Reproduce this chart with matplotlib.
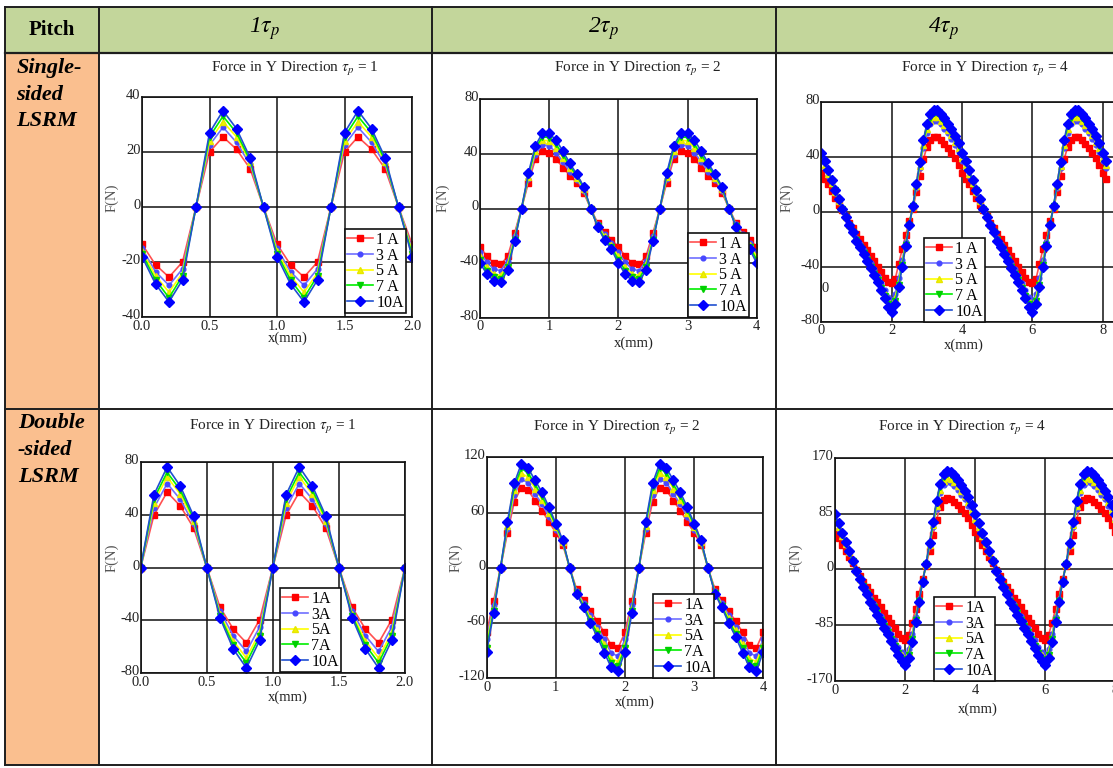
import numpy as np
import matplotlib
matplotlib.use("Agg")
import matplotlib.pyplot as plt
import matplotlib.transforms as mtransforms
from matplotlib.patches import Rectangle
from matplotlib.lines import Line2D

# ---------------- data ----------------
currents_top = ['1 A', '3 A', '5 A', '7 A', '10A']
currents_bot = ['1A', '3A', '5A', '7A', '10A']
col_headers = [r'1$\tau_p$', r'2$\tau_p$', r'4$\tau_p$']
row_labels = [['Single-', 'sided', 'LSRM'], ['Double', '-sided', 'LSRM']]
titles = [r'Force in Y Direction $\tau_p$ = 1', r'Force in Y Direction $\tau_p$ = 2',
          r'Force in Y Direction $\tau_p$ = 4']

# Panel 1: single-sided, tau_p = 1 (x 0..2 mm, step 0.1)
p1_x = [round(0.1 * i, 1) for i in range(21)]
p1_1A = [-13.5, -21, -25.5, -20, 0, 20, 25.5, 21, 14, 0,
         -13.5, -21, -25.5, -20, 0, 20, 25.5, 21, 14, 0, -13.5]
p1_3A = [-15, -23.5, -28.5, -22.5, 0, 22.5, 29, 23.5, 15.5, 0,
         -15, -23.5, -28.5, -22.5, 0, 22.5, 29, 23.5, 15.5, 0, -15]
p1_5A = [-16, -25, -31, -24, 0, 24, 31, 25.5, 16.5, 0,
         -16, -25, -31, -24, 0, 24, 31, 25.5, 16.5, 0, -16]
p1_7A = [-17, -26.5, -33, -25, 0, 25.5, 33, 27, 17, 0,
         -17, -26.5, -33, -25, 0, 25.5, 33, 27, 17, 0, -17]
p1_10A = [-18, -28, -34.5, -26.5, 0, 27, 35, 28.5, 18, 0,
          -18, -28, -34.5, -26.5, 0, 27, 35, 28.5, 18, 0, -18]

# Panel 2: single-sided, tau_p = 2 (x 0..4 mm)
p2_x = [round(0.1 * i, 1) for i in range(41)]
p2_1A = [-28, -35, -40, -41, -35, -18, 0, 19, 36, 42, 41, 36, 30, 24, 19, 11.5, 0, -10.5, -17, -23,
         -28, -35, -40, -41, -35, -18, 0, 19, 36, 42, 41, 36, 30, 24, 19, 11.5, 0, -10.5, -17, -23, -28]
p2_3A = [-32, -39.5, -44.5, -45.5, -38.5, -20, 0, 21.5, 39.5, 46.5, 46, 41, 34, 27, 21, 13, 0, -11.5, -19, -25.5,
         -32, -39.5, -44.5, -45.5, -38.5, -20, 0, 21.5, 39.5, 46.5, 46, 41, 34, 27, 21, 13, 0, -11.5, -19, -25.5, -32]
p2_5A = [-35, -43, -48, -49, -41, -21.5, 0, 23, 42, 50, 49.5, 44.5, 37, 29.5, 22.5, 14, 0, -12.5, -20.5, -27,
         -35, -43, -48, -49, -41, -21.5, 0, 23, 42, 50, 49.5, 44.5, 37, 29.5, 22.5, 14, 0, -12.5, -20.5, -27, -35]
p2_7A = [-37.5, -45.5, -50.5, -51.5, -43, -23, 0, 24.5, 44, 52.5, 52, 47, 39.5, 31, 24, 15, 0, -13, -22, -28.5,
         -37.5, -45.5, -50.5, -51.5, -43, -23, 0, 24.5, 44, 52.5, 52, 47, 39.5, 31, 24, 15, 0, -13, -22, -28.5, -37.5]
p2_10A = [-40, -48, -53, -54, -45, -24, 0, 26, 46, 55, 55, 50, 42, 33, 25, 16, 0, -13.5, -23, -30,
          -40, -48, -53, -54, -45, -24, 0, 26, 46, 55, 55, 50, 42, 33, 25, 16, 0, -13.5, -23, -30, -40]

# Panel 3: single-sided, tau_p = 4 (x 0..8.1 mm)
p3_x = [round(0.1 * i, 1) for i in range(82)]
p3_1A = [28, 24, 20, 15, 10, 5, 1, -3, -8, -12, -16, -20, -24, -28, -32, -36, -40, -44, -48, -51,
         -52, -49, -38, -27, -17, -7, 2, 14, 26, 38, 47, 52, 54, 54, 52, 49, 46, 43, 39, 34,
         28, 24, 20, 15, 10, 5, 1, -3, -8, -12, -16, -20, -24, -28, -32, -36, -40, -44, -48, -51,
         -52, -49, -38, -27, -17, -7, 2, 14, 26, 38, 47, 52, 54, 54, 52, 49, 46, 43, 39, 34,
         28, 24]
p3_3A = [37, 32, 26, 20, 13.5, 7.5, 1.5, -3.5, -9, -14, -19, -23.5, -28, -33, -37.5, -42, -46.5, -52, -57, -62,
         -64.5, -60, -48, -35, -22, -9, 3, 17.5, 32, 46.5, 57, 63.5, 66, 66, 63.5, 60.5, 57, 53, 48.5, 43.5,
         37, 32, 26, 20, 13.5, 7.5, 1.5, -3.5, -9, -14, -19, -23.5, -28, -33, -37.5, -42, -46.5, -52, -57, -62,
         -64.5, -60, -48, -35, -22, -9, 3, 17.5, 32, 46.5, 57, 63.5, 66, 66, 63.5, 60.5, 57, 53, 48.5, 43.5,
         37, 32]
p3_5A = [39, 34, 27.5, 21, 14.5, 8, 2, -4, -9.5, -14, -20, -24.5, -29, -34, -39, -43.5, -48, -54, -59, -64.5,
         -68, -62.5, -51, -37, -23, -9, 3.5, 18.5, 33.5, 48.5, 60, 66, 69, 69, 66, 63, 59.5, 56, 51, 46,
         39, 34, 27.5, 21, 14.5, 8, 2, -4, -9.5, -14, -20, -24.5, -29, -34, -39, -43.5, -48, -54, -59, -64.5,
         -68, -62.5, -51, -37, -23, -9, 3.5, 18.5, 33.5, 48.5, 60, 66, 69, 69, 66, 63, 59.5, 56, 51, 46,
         39, 34]
p3_7A = [41, 35.5, 29, 22, 15.5, 8.5, 2, -4, -10, -14.5, -20.5, -25.5, -30, -35, -40, -45, -49.5, -55.5, -61, -67,
         -70.5, -65, -53, -38.5, -24, -9.5, 4, 19.5, 35, 50.5, 62, 68.5, 71.5, 71.5, 68.5, 65.5, 62, 58, 53, 48,
         41, 35.5, 29, 22, 15.5, 8.5, 2, -4, -10, -14.5, -20.5, -25.5, -30, -35, -40, -45, -49.5, -55.5, -61, -67,
         -70.5, -65, -53, -38.5, -24, -9.5, 4, 19.5, 35, 50.5, 62, 68.5, 71.5, 71.5, 68.5, 65.5, 62, 58, 53, 48,
         41, 35.5]
p3_10A = [43, 37, 30, 23, 16, 9, 2, -4, -10, -15, -21, -26, -31, -36, -41, -46, -51, -57, -63, -69,
          -73, -67, -55, -40, -25, -10, 4, 20, 36, 52, 64, 71, 74, 74, 71, 68, 64, 60, 55, 50,
          43, 37, 30, 23, 16, 9, 2, -4, -10, -15, -21, -26, -31, -36, -41, -46, -51, -57, -63, -69,
          -73, -67, -55, -40, -25, -10, 4, 20, 36, 52, 64, 71, 74, 74, 71, 68, 64, 60, 55, 50,
          43, 37]

# Panel 4: double-sided, tau_p = 1 (x 0..2 mm)
p4_x = [round(0.1 * i, 1) for i in range(21)]
p4_1A = [0, 39.5, 57, 46.5, 30, 0, -30, -46.5, -57, -39.5,
         0, 39.5, 57, 46.5, 30, 0, -30, -46.5, -57, -39.5, 0]
p4_3A = [0, 45, 63.5, 51.5, 33, 0, -33, -51.5, -63.5, -45,
         0, 45, 63.5, 51.5, 33, 0, -33, -51.5, -63.5, -45, 0]
p4_5A = [0, 49, 68.5, 55.5, 35.5, 0, -35, -55.5, -68.5, -49,
         0, 49, 68.5, 55.5, 35.5, 0, -35, -55.5, -68.5, -49, 0]
p4_7A = [0, 52, 72, 58.5, 37, 0, -36.5, -58.5, -72, -52,
         0, 52, 72, 58.5, 37, 0, -36.5, -58.5, -72, -52, 0]
p4_10A = [0, 55, 76, 61.5, 39, 0, -38, -61.5, -76, -55,
          0, 55, 76, 61.5, 39, 0, -38, -61.5, -76, -55, 0]

# Panel 5: double-sided, tau_p = 2 (x 0..4 mm)
p5_x = [round(0.1 * i, 1) for i in range(41)]
p5_1A = [-70, -36, 0, 38, 72, 87, 84, 73, 62, 50, 38, 25, 0, -23, -35, -47, -58, -70, -84, -87,
         -70, -36, 0, 38, 72, 87, 84, 73, 62, 50, 38, 25, 0, -23, -35, -47, -58, -70, -84, -87, -70]
p5_3A = [-77.5, -40.5, 0, 42, 79, 96, 92.5, 80.5, 69, 55.5, 41.5, 27, 0, -25, -38, -51.5, -64, -77.5, -92.5, -96,
         -77.5, -40.5, 0, 42, 79, 96, 92.5, 80.5, 69, 55.5, 41.5, 27, 0, -25, -38, -51.5, -64, -77.5, -92.5, -96, -77.5]
p5_5A = [-82.5, -44, 0, 45, 84, 102.5, 98.5, 86, 74, 59.5, 44, 28, 0, -26, -40, -55, -68, -83, -98.5, -102,
         -82.5, -44, 0, 45, 84, 102.5, 98.5, 86, 74, 59.5, 44, 28, 0, -26, -40, -55, -68, -83, -98.5, -102, -82.5]
p5_7A = [-87, -46.5, 0, 47.5, 88, 108, 103, 90.5, 78, 63, 46, 29, 0, -27, -41.5, -57.5, -71.5, -87.5, -103, -107,
         -87, -46.5, 0, 47.5, 88, 108, 103, 90.5, 78, 63, 46, 29, 0, -27, -41.5, -57.5, -71.5, -87.5, -103, -107, -87]
p5_10A = [-91, -49, 0, 50, 92, 113, 108, 95, 82, 66, 48, 30, 0, -28, -43, -60, -75, -92, -108, -112,
          -91, -49, 0, 50, 92, 113, 108, 95, 82, 66, 48, 30, 0, -28, -43, -60, -75, -92, -108, -112, -91]

# Panel 6: double-sided, tau_p = 4 (x 0..8 mm)
p6_x = [round(0.1 * i, 1) for i in range(81)]
p6_1A = [57, 47, 37, 28, 19, 9, -1, -10, -19, -27, -35, -43, -50, -58, -66, -74, -82, -90, -98, -105,
         -108, -100, -82, -60, -37, -15, 5, 28, 52, 75, 95, 105, 108, 107, 103, 98, 92, 86, 78, 68,
         57, 47, 37, 28, 19, 9, -1, -10, -19, -27, -35, -43, -50, -58, -66, -74, -82, -90, -98, -105,
         -108, -100, -82, -60, -37, -15, 5, 28, 52, 75, 95, 105, 108, 107, 103, 98, 92, 86, 78, 68,
         57]
p6_3A = [73, 61, 48.5, 36.5, 24.5, 11.5, -1.5, -13, -24, -33.5, -43.5, -52.5, -61.5, -70.5, -80, -89, -98, -108, -118, -126,
         -131, -121, -99, -72, -45, -18, 7, 35, 64, 92.5, 116, 129, 133, 131.5, 127, 121, 113.5, 106.5, 97, 86,
         73, 61, 48.5, 36.5, 24.5, 11.5, -1.5, -13, -24, -33.5, -43.5, -52.5, -61.5, -70.5, -80, -89, -98, -108, -118, -126,
         -131, -121, -99, -72, -45, -18, 7, 35, 64, 92.5, 116, 129, 133, 131.5, 127, 121, 113.5, 106.5, 97, 86,
         73]
p6_5A = [77, 64, 51, 38.5, 26, 12, -2, -14, -25, -35, -45.5, -55, -64, -74, -83, -93, -102, -112.5, -123, -131,
         -136.5, -126, -103, -75, -47, -19, 7, 37, 67, 97, 121, 135, 139.5, 138, 133, 126.5, 119, 111.5, 102, 90.5,
         77, 64, 51, 38.5, 26, 12, -2, -14, -25, -35, -45.5, -55, -64, -74, -83, -93, -102, -112.5, -123, -131,
         -136.5, -126, -103, -75, -47, -19, 7, 37, 67, 97, 121, 135, 139.5, 138, 133, 126.5, 119, 111.5, 102, 90.5,
         77]
p6_7A = [81, 67, 53.5, 40, 27, 12.5, -2, -14.5, -26, -36.5, -47.5, -57, -66.5, -76.5, -86, -96, -106, -116.5, -127, -136,
         -141.5, -131, -106.5, -77.5, -48.5, -19.5, 7.5, 38.5, 69.5, 100.5, 126, 140, 145, 143, 138, 131.5, 123.5, 116, 106, 94.5,
         81, 67, 53.5, 40, 27, 12.5, -2, -14.5, -26, -36.5, -47.5, -57, -66.5, -76.5, -86, -96, -106, -116.5, -127, -136,
         -141.5, -131, -106.5, -77.5, -48.5, -19.5, 7.5, 38.5, 69.5, 100.5, 126, 140, 145, 143, 138, 131.5, 123.5, 116, 106, 94.5,
         81]
p6_10A = [84, 70, 56, 42, 28, 13, -2, -15, -27, -38, -49, -59, -69, -79, -89, -99, -109, -120, -131, -140,
          -146, -135, -110, -80, -50, -20, 8, 40, 72, 104, 130, 145, 150, 148, 143, 136, 128, 120, 110, 98,
          84, 70, 56, 42, 28, 13, -2, -15, -27, -38, -49, -59, -69, -79, -89, -99, -109, -120, -131, -140,
          -146, -135, -110, -80, -50, -20, 8, 40, 72, 104, 130, 145, 150, 148, 143, 136, 128, 120, 110, 98,
          84]

# tick labels
p1_xticks, p1_xtl = [0, 0.5, 1.0, 1.5, 2.0], ['0.0', '0.5', '1.0', '1.5', '2.0']
p2_xticks, p2_xtl = [0, 1, 2, 3, 4], ['0', '1', '2', '3', '4']
p3_xticks, p3_xtl = [0, 2, 4, 6, 8], ['0', '2', '4', '6', '8']
p1_yticks = [-40, -20, 0, 20, 40]
p2_yticks = [-80, -40, 0, 40, 80]
p3_yticks = [-80, -40, 0, 40, 80]
p4_yticks = [-80, -40, 0, 40, 80]
p5_yticks = [-120, -60, 0, 60, 120]
p6_yticks = [-170, -85, 0, 85, 170]

# ---------------- figure ----------------
W, H = 1113, 768
plt.rcParams['font.family'] = ['Liberation Serif', 'DejaVu Serif']
plt.rcParams['mathtext.fontset'] = 'stix'

fig = plt.figure(figsize=(W / 100, H / 100), dpi=100)
fig.patch.set_facecolor('white')


def X(px):
    return px / W


def Y(py):
    return 1 - py / H


GREEN = '#c3d69b'
ORANGE = '#fabf8f'
LINEC = '#1e1e1e'

fig.add_artist(Rectangle((X(5.3), Y(52.7)), X(1113) - X(5.3), Y(7.3) - Y(52.7),
                         transform=fig.transFigure, facecolor=GREEN, edgecolor='none', zorder=0))
fig.add_artist(Rectangle((X(5.3), Y(765)), X(98.7) - X(5.3), Y(52.7) - Y(765),
                         transform=fig.transFigure, facecolor=ORANGE, edgecolor='none', zorder=0))


def hline(y, x0, x1, lw=1.4):
    fig.add_artist(Line2D([X(x0), X(x1)], [Y(y), Y(y)], transform=fig.transFigure,
                          color=LINEC, lw=lw, zorder=5))


def vline(x, y0, y1, lw=1.4):
    fig.add_artist(Line2D([X(x), X(x)], [Y(y0), Y(y1)], transform=fig.transFigure,
                          color=LINEC, lw=lw, zorder=5))


hline(7.3, 5.3, 1113)
hline(52.7, 5.3, 1113, lw=1.6)
hline(409.3, 5.3, 1113)
hline(765, 5.3, 1113)
for xv in [5.3, 98.7, 431.7, 776]:
    vline(xv, 7.3, 765)

# header texts
fig.text(X(52), Y(30), 'Pitch', ha='center', va='center', fontsize=15, fontweight='bold')
for cx, txt in zip([265, 604, 944], col_headers):
    fig.text(X(cx), Y(29), txt, ha='center', va='center', fontsize=17, fontstyle='italic')

for lines, ys, x0 in [(row_labels[0], [68, 95, 121], 16.5), (row_labels[1], [423, 450, 477], 18)]:
    for t, yy in zip(lines, ys):
        fig.text(X(x0), Y(yy), t, ha='left', va='center', fontsize=16,
                 fontweight='bold', fontstyle='italic')

styles = [
    dict(color='#ff5050', marker='s', ms=5.0, mfc='#ff0000', mec='#ff0000'),
    dict(color='#6f6fff', marker='o', ms=3.4, mfc='#4848ff', mec='#4848ff'),
    dict(color='#ffff00', marker='^', ms=4.6, mfc='#f2f200', mec='#e6e600'),
    dict(color='#00ee00', marker='v', ms=4.8, mfc='#00d000', mec='#00d000'),
    dict(color='#2050d0', marker='D', ms=4.6, mfc='#0000ff', mec='#0000ff'),
]

panels = [
    dict(box=(142, 97, 412, 317), xlim=(0, 2), ylim=(-40, 40), x=p1_x,
         ys=[p1_1A, p1_3A, p1_5A, p1_7A, p1_10A], xt=p1_xticks, xtl=p1_xtl, yt=p1_yticks,
         title=titles[0], tpos=(295, 69), xl=(288, 338), yl=(112, 198),
         leg=(345, 313), labels=currents_top, right=True),
    dict(box=(480, 99.3, 756.7, 317.7), xlim=(0, 4), ylim=(-80, 80), x=p2_x,
         ys=[p2_1A, p2_3A, p2_5A, p2_7A, p2_10A], xt=p2_xticks, xtl=p2_xtl, yt=p2_yticks,
         title=titles[1], tpos=(638, 69), xl=(634, 343), yl=(443, 198),
         leg=(688, 317), labels=currents_top, right=True),
    dict(box=(821.3, 101.7, 1113, 321.7), xlim=(0, 8.29), ylim=(-80, 80), x=p3_x,
         ys=[p3_1A, p3_3A, p3_5A, p3_7A, p3_10A], xt=p3_xticks, xtl=p3_xtl, yt=p3_yticks,
         title=titles[2], tpos=(985, 69), xl=(964, 345), yl=(787, 198),
         leg=(924, 322), labels=currents_top, right=False),
    dict(box=(140.7, 461.7, 405, 673.3), xlim=(0, 2), ylim=(-80, 80), x=p4_x,
         ys=[p4_1A, p4_3A, p4_5A, p4_7A, p4_10A], xt=p1_xticks, xtl=p1_xtl, yt=p4_yticks,
         title=titles[0], tpos=(273, 427), xl=(288, 697), yl=(112, 558),
         leg=(280, 672), labels=currents_bot, right=True),
    dict(box=(486.7, 457.3, 763.3, 678.3), xlim=(0, 4), ylim=(-120, 120), x=p5_x,
         ys=[p5_1A, p5_3A, p5_5A, p5_7A, p5_10A], xt=p2_xticks, xtl=p2_xtl, yt=p5_yticks,
         title=titles[1], tpos=(617, 428), xl=(635, 702), yl=(456, 558),
         leg=(653, 678), labels=currents_bot, right=True),
    dict(box=(835, 457.7, 1115, 681), xlim=(0, 8), ylim=(-170, 170), x=p6_x,
         ys=[p6_1A, p6_3A, p6_5A, p6_7A, p6_10A], xt=p3_xticks, xtl=p3_xtl, yt=p6_yticks,
         title=titles[2], tpos=(962, 428), xl=(978, 709), yl=(796, 558),
         leg=(934, 681), labels=currents_bot, right=False),
]

up_shift = mtransforms.ScaledTranslation(0, 3 / 100, fig.dpi_scale_trans)

for p in panels:
    x0, y0, x1, y1 = p['box']
    ax = fig.add_axes([X(x0), Y(y1), (x1 - x0) / W, (y1 - y0) / H])
    ax.set_xlim(*p['xlim'])
    ax.set_ylim(*p['ylim'])
    ax.set_axisbelow(True)
    ax.grid(True, color='#111111', lw=1.1)
    ax.set_xticks(p['xt'])
    ax.set_xticklabels(p['xtl'])
    ax.set_yticks(p['yt'])
    ax.set_yticklabels([str(v) for v in p['yt']])
    ax.tick_params(axis='both', length=0, labelsize=10.5, labelcolor='#222222')
    ax.tick_params(axis='x', pad=2)
    ax.tick_params(axis='y', pad=1)
    for lab in ax.get_yticklabels():
        lab.set_transform(lab.get_transform() + up_shift)
    for s in ax.spines.values():
        s.set_color('#111111')
        s.set_linewidth(1.2)
    if not p['right']:
        ax.spines['right'].set_visible(False)
    handles = []
    for yv, st in zip(p['ys'], styles):
        ln, = ax.plot(p['x'], yv, lw=1.2, clip_on=True, **st)
        handles.append(ln)
    lx, ly = p['leg']
    leg = ax.legend(handles, p['labels'], loc='lower left',
                    bbox_to_anchor=(X(lx), Y(ly)), bbox_transform=fig.transFigure,
                    borderaxespad=0, fontsize=11.5, frameon=True, fancybox=False,
                    edgecolor='#111111', framealpha=1, borderpad=0.15,
                    labelspacing=-0.02, handlelength=1.6, handletextpad=0.2,
                    numpoints=1)
    leg.get_frame().set_linewidth(1.2)
    fig.text(X(p['tpos'][0]), Y(p['tpos'][1]), p['title'], ha='center', va='center',
             fontsize=11, color='#222222')
    fig.text(X(p['xl'][0]), Y(p['xl'][1]), 'x(mm)', ha='center', va='center',
             fontsize=10.5, color='#222222')
    fig.text(X(p['yl'][0]), Y(p['yl'][1]), 'F(N)', ha='center', va='center',
             fontsize=10.5, color='#555555', rotation=90)

# stray label seen in the original single-sided tau_p=4 plot
fig.text(X(825), Y(288), '0', ha='center', va='center', fontsize=10.5, color='#222222')

fig.savefig('out.png', dpi=100, facecolor='white')
